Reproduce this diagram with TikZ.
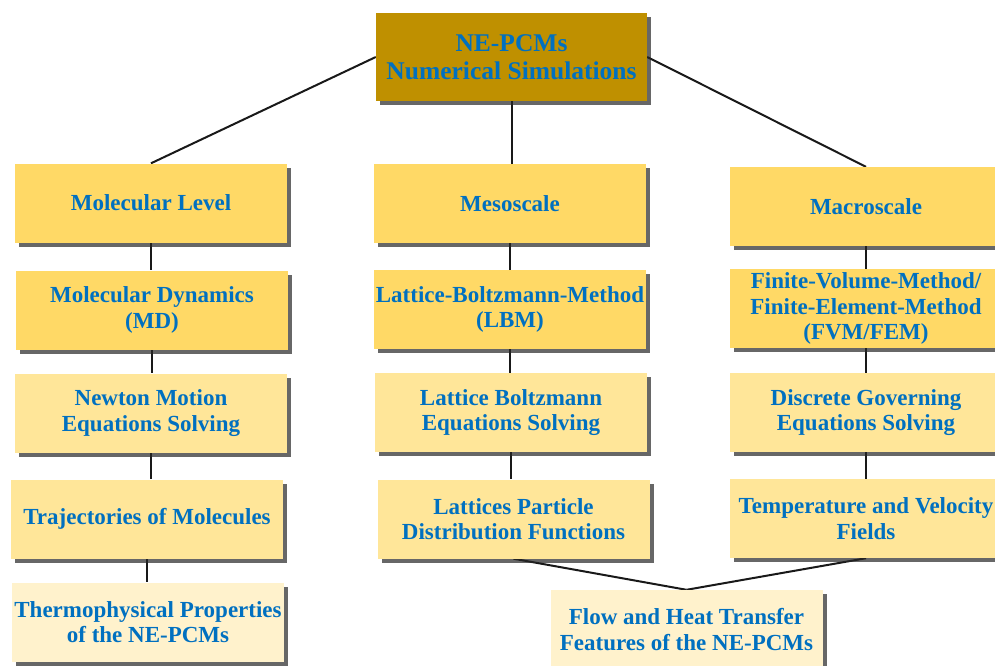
\documentclass[tikz,border=0pt]{standalone}
\usepackage{fontspec}
\setmainfont{Liberation Serif}
\usetikzlibrary{shadows, backgrounds}
\definecolor{topGold}{RGB}{191,144,0}
\definecolor{midGold}{RGB}{255,217,102}
\definecolor{lightGold}{RGB}{255,230,153}
\definecolor{paleGold}{RGB}{255,242,204}
\definecolor{textBlue}{RGB}{0,112,192}
\tikzstyle{line} = [line width=2pt, black!90]
\tikzstyle{box} = [rectangle, minimum width=272pt, minimum height=79pt, text centered, inner sep=1pt, text=textBlue, font=\fontsize{23}{25.5}\selectfont\bfseries, drop shadow={shadow xshift=4pt, shadow yshift=-4pt, fill=black!85, opacity=.7}]
\tikzstyle{topBox} = [box, fill=topGold, minimum width=271pt, minimum height=88pt, font=\fontsize{25.5}{28}\selectfont\bfseries]
\tikzstyle{midBox} = [box, fill=midGold]
\tikzstyle{lightBox} = [box, fill=lightGold]
\tikzstyle{paleBox} = [box, fill=paleGold]

\begin{document}
\begin{tikzpicture}[x=1pt, y=-1pt, every text node part/.style={align=center}]
		\useasboundingbox (0,0) rectangle (995,666);
		\node (top) [topBox] at (511.5,57) {NE-PCMs \\ Numerical Simulations};
		% molecular level
		\node (mol) [midBox] at (151,203) {Molecular Level};
		\node (md) [midBox] at (152,310) {Molecular Dynamics \\ (MD)};
		\node (newton) [lightBox] at (151,413) {Newton Motion \\ Equations Solving};
		\node (traj) [lightBox] at (147,519) {Trajectories of Molecules};
		\node (thermo) [paleBox] at (148,622) {Thermophysical Properties \\ of the NE-PCMs};
		% mesoscale
		\node (meso) [midBox] at (510,203.5) {Mesoscale};
		\node (lbm) [midBox] at (510,309.5) {Lattice-Boltzmann-Method \\ (LBM)};
		\node (lbe) [lightBox] at (511,412.5) {Lattice Boltzmann \\ Equations Solving};
		\node (lattice) [lightBox] at (513.5,519) {Lattices Particle \\ Distribution Functions};
		% macroscale
		\node (macro) [midBox] at (866,206.5) {Macroscale};
		\node (fvm) [midBox] at (866,308.5) {Finite-Volume-Method/ \\ Finite-Element-Method \\ (FVM/FEM)};
		\node (discrete) [lightBox] at (866,412.5) {Discrete Governing \\ Equations Solving};
		\node (temp) [lightBox] at (866,518.5) {Temperature and Velocity \\ Fields};
		\node (flow) [paleBox] at (686.5,629.5) {Flow and Heat Transfer \\ Features of the NE-PCMs};
		\begin{scope}[on background layer]
		\draw [line] (top.west) -- (mol.north);
		\draw [line] (top.south) -- (top.south |- meso.north);
		\draw [line] (top.east) -- (macro.north);
		\draw [line] (mol.south) -- (mol.south |- md.north);
		\draw [line] (md.south) -- (md.south |- newton.north);
		\draw [line] (newton.south) -- (newton.south |- traj.north);
		\draw [line] (traj.south) -- (traj.south |- thermo.north);
		\draw [line] (meso.south) -- (meso.south |- lbm.north);
		\draw [line] (lbm.south) -- (lbm.south |- lbe.north);
		\draw [line] (lbe.south) -- (lbe.south |- lattice.north);
		\draw [line] (macro.south) -- (fvm.north);
		\draw [line] (fvm.south) -- (discrete.north);
		\draw [line] (discrete.south) -- (temp.north);
		\draw [line] (lattice.south) -- (flow.north);
		\draw [line] (temp.south) -- (flow.north);
		\end{scope}
	\end{tikzpicture}
\end{document}
